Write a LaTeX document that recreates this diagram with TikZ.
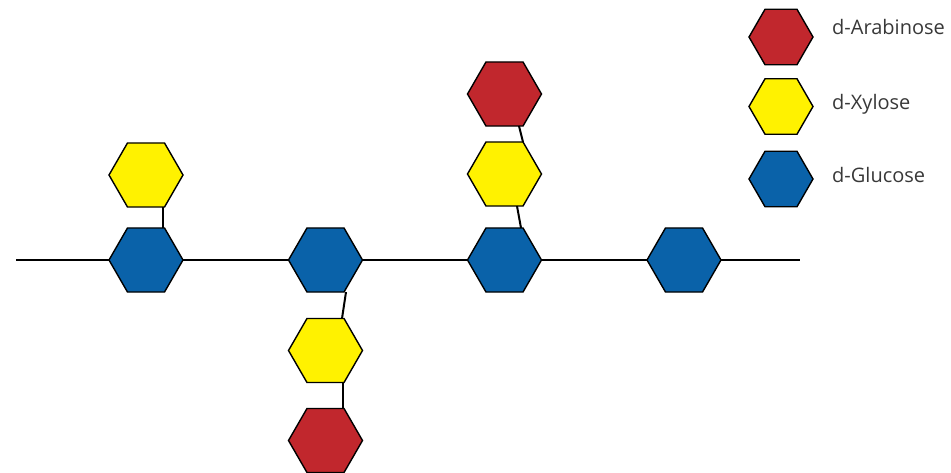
\documentclass[tikz,border=0pt]{standalone}
\usepackage{fontspec}
\setmainfont{Open Sans}
\usetikzlibrary{shapes.geometric,calc}
\definecolor{arared}{HTML}{C1272D}
\definecolor{xylyellow}{HTML}{FFF200}
\definecolor{glcblue}{HTML}{0A62A9}
\definecolor{labelgray}{HTML}{383838}
\tikzset{
  sugar/.style={regular polygon, regular polygon sides=6, minimum size=74pt,
    inner sep=0pt, outer sep=0pt, draw=black, line width=1.4pt},
  legsugar/.style={sugar, minimum size=64pt},
  ara/.style={fill=arared},
  xyl/.style={fill=xylyellow},
  glc/.style={fill=glcblue},
  bond/.style={draw=black, line width=2pt},
  leglabel/.style={anchor=base west, inner sep=0pt, text=labelgray,
    font=\fontsize{20}{24}\selectfont}
}
\begin{document}
\begin{tikzpicture}[x=1pt,y=-1pt]
\useasboundingbox (0,0) rectangle (951,472);

% backbone of glucose units
\node[sugar,glc] (g1) at (146,260) {};
\node[sugar,glc] (g2) at (325.5,260) {};
\node[sugar,glc] (g3) at (504.5,260) {};
\node[sugar,glc] (g4) at (684,260) {};
\coordinate (left) at (16,260);
\coordinate (right) at (800,260);
\draw[bond] (left) -- (g1) -- (g2) -- (g3) -- (g4) -- (right);

% side chains
\node[sugar,xyl] (x1) at (146,175) {};
\node[sugar,xyl] (x2) at (325.5,350.5) {};
\node[sugar,ara] (a2) at (325.5,440.5) {};
\node[sugar,xyl] (x3) at (504.5,174) {};
\node[sugar,ara] (a3) at (504.5,94) {};

\draw[bond] ($(x1.south)+(17,0)$) -- ($(g1.north)+(17,0)$);
\draw[bond] ($(g2.south)+(20.5,0)$) -- ($(x2.north)+(16.5,0)$);
\draw[bond] ($(x2.south)+(17.5,0)$) -- ($(a2.north)+(17.5,0)$);
\draw[bond] ($(a3.south)+(14.5,0)$) -- ($(x3.north)+(18.5,0)$);
\draw[bond] ($(x3.south)+(12.5,0)$) -- ($(g3.north)+(16.5,0)$);

% legend
\node[legsugar,ara] (la) at (781,37) {};
\node[legsugar,xyl] (lx) at (781,106.5) {};
\node[legsugar,glc] (lg) at (781,179) {};
\node[leglabel] (ta) at (832,34) {d-Arabinose};
\node[leglabel] (tx) at (832,109) {d-Xylose};
\node[leglabel] (tg) at (832,182) {d-Glucose};
\end{tikzpicture}
\end{document}
